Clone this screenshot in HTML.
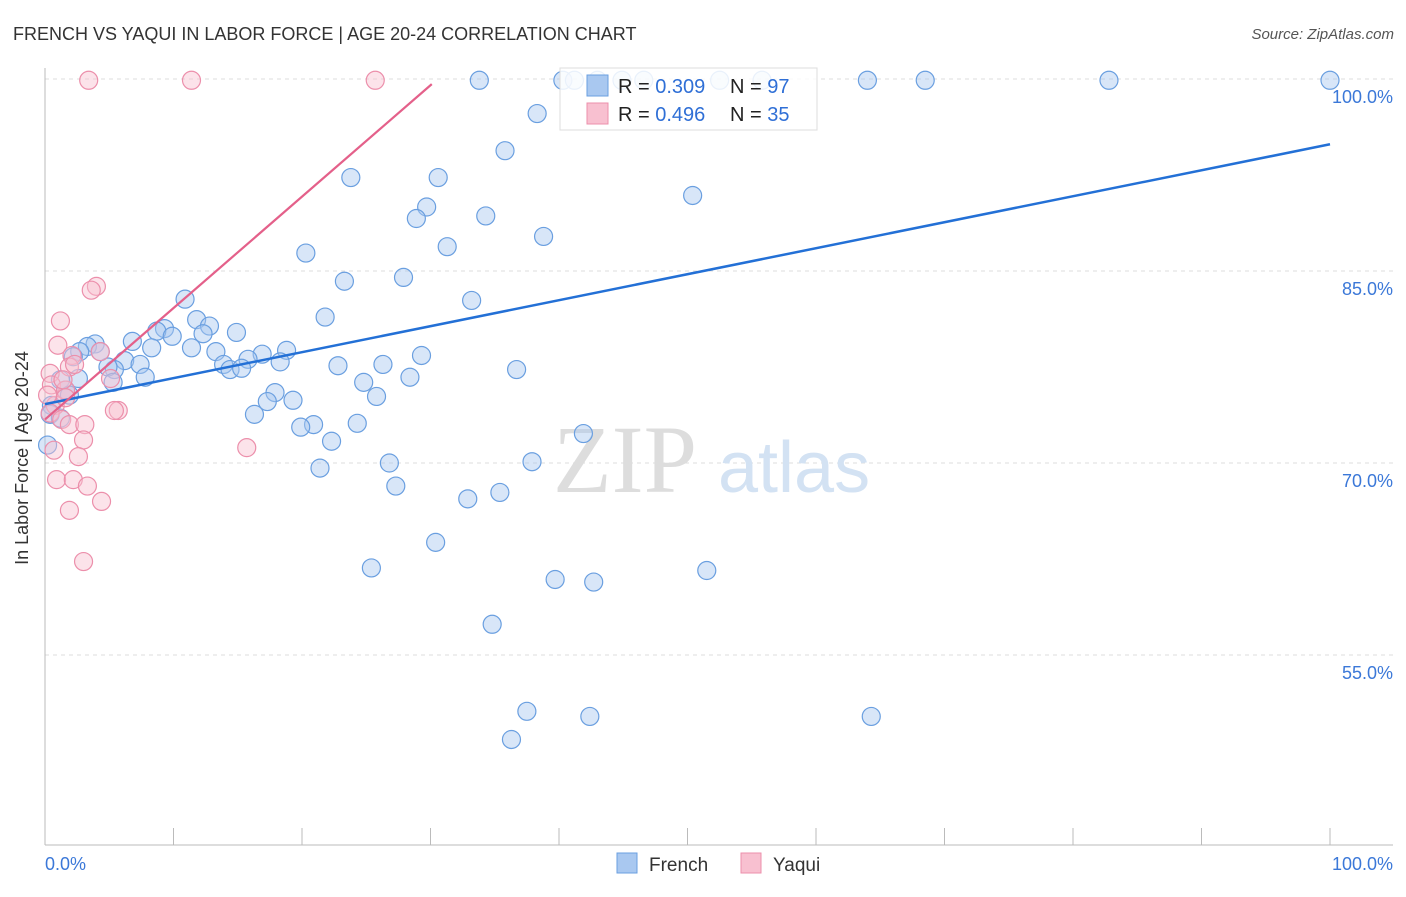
<!DOCTYPE html>
<html><head><meta charset="utf-8"><style>
body{margin:0;background:#fff;font-family:"Liberation Sans",sans-serif;}
svg text{font-family:"Liberation Sans",sans-serif;}
</style></head><body>
<svg width="1406" height="892" viewBox="0 0 1406 892">
<text x="13" y="40" font-size="18" fill="#333">FRENCH VS YAQUI IN LABOR FORCE | AGE 20-24 CORRELATION CHART</text>
<text x="1394" y="39" font-size="15" fill="#555" font-style="italic" text-anchor="end">Source: ZipAtlas.com</text>
<g id="grid"></g>
<g>
<text x="553" y="492" font-size="96" fill="#ddd" font-family="Liberation Serif" style="font-family:'Liberation Serif',serif">ZIP</text>
<text x="718" y="492" font-size="72" fill="#d3e2f3">atlas</text>
</g>
<g id="axes"></g>
<g id="pts"></g>
<g id="lines"></g>
<text x="28" y="458" font-size="18" fill="#333" transform="rotate(-90 28 458)" text-anchor="middle">In Labor Force | Age 20-24</text>
<g>
<rect x="560" y="68" width="257" height="62" fill="#fff" fill-opacity="0.85" stroke="#ddd"/>
<rect x="587" y="75" width="21" height="21" fill="#a9c8f0" stroke="#6a9fe0"/>
<rect x="587" y="103" width="21" height="21" fill="#f8c0d0" stroke="#ec8fab"/>
<text x="618" y="93" font-size="20" fill="#222">R = <tspan fill="#2f6fd6">0.309</tspan></text>
<text x="730" y="93" font-size="20" fill="#222">N = <tspan fill="#2f6fd6">97</tspan></text>
<text x="618" y="121" font-size="20" fill="#222">R = <tspan fill="#2f6fd6">0.496</tspan></text>
<text x="730" y="121" font-size="20" fill="#222">N = <tspan fill="#2f6fd6">35</tspan></text>
</g>
<g>
<rect x="617" y="853" width="20" height="20" fill="#a9c8f0" stroke="#6a9fe0"/>
<text x="649" y="871" font-size="19" fill="#333">French</text>
<rect x="741" y="853" width="20" height="20" fill="#f8c0d0" stroke="#ec8fab"/>
<text x="773" y="871" font-size="19" fill="#333">Yaqui</text>
</g>
</svg>
<script>
const yTicks=[100,85,70,55];
const xTickLabels=["0.0%","100.0%"];
const frenchX=[33.8,40.3,41.2,43.0,44.9,46.6,52.5,55.8,64.0,68.5,82.8,100,38.3,35.8,23.8,30.6,50.4,29.7,28.9,34.3,38.8,31.3,20.3,23.3,27.9,33.2,10.9,21.8,11.8,9.3,12.8,8.7,14.9,9.9,12.3,6.8,11.4,8.3,3.9,3.3,2.7,2.2,13.3,18.8,16.9,15.8,29.3,22.8,26.3,6.2,7.4,13.9,14.4,15.3,18.3,36.7,5.4,4.9,7.8,28.4,24.8,5.3,2.6,1.2,17.9,25.8,19.3,17.3,0.5,16.3,20.9,19.9,24.3,0.4,22.3,41.9,1.2,0.2,21.4,26.8,37.9,27.3,35.4,32.9,30.4,25.4,39.7,42.7,51.5,34.8,37.5,42.4,64.3,36.3,1.6,1.9,4.3];
const frenchY=[99.9,99.9,99.9,99.9,99.9,99.9,99.9,99.9,99.9,99.9,99.9,99.9,97.3,94.4,92.3,92.3,90.9,90.0,89.1,89.3,87.7,86.9,86.4,84.2,84.5,82.7,82.8,81.4,81.2,80.5,80.7,80.3,80.2,79.9,80.1,79.5,79.0,79.0,79.3,79.1,78.7,78.3,78.7,78.8,78.5,78.1,78.4,77.6,77.7,78.0,77.7,77.7,77.3,77.4,77.9,77.3,77.3,77.5,76.7,76.7,76.3,76.3,76.6,76.5,75.5,75.2,74.9,74.8,74.5,73.8,73.0,72.8,73.1,73.8,71.7,72.3,73.5,71.4,69.6,70.0,70.1,68.2,67.7,67.2,63.8,61.8,60.9,60.7,61.6,57.4,50.6,50.2,50.2,48.4,75.7,75.3,78.7];
const yaquiX=[3.4,11.4,25.7,4.0,3.6,1.2,1.0,2.1,1.9,4.3,0.4,0.5,1.6,0.8,5.7,5.4,0.4,1.3,1.9,3.1,3.0,0.7,2.6,15.7,0.9,2.2,3.3,4.4,1.9,3.0,5.1,1.4,2.3,0.2,1.6];
const yaquiY=[99.9,99.9,99.9,83.8,83.5,81.1,79.2,78.4,77.5,78.7,77.0,76.1,75.7,74.5,74.1,74.1,73.9,73.4,73.0,73.0,71.8,71.0,70.5,71.2,68.7,68.7,68.2,67.0,66.3,62.3,76.6,76.5,77.7,75.3,75.1];
const frenchTrend=[[0,74.6],[100,94.9]];
const yaquiTrend=[[0,73.4],[30.1,99.6]];
const NS="http://www.w3.org/2000/svg";
const X=v=>45+v*12.85, Y=v=>79+(100-v)*12.8;
function mk(t,a,p){const e=document.createElementNS(NS,t);for(const k in a)e.setAttribute(k,a[k]);p.appendChild(e);return e;}
const grid=document.getElementById('grid'),axes=document.getElementById('axes');
yTicks.forEach(t=>{const l=mk('line',{x1:45,x2:1393,y1:Y(t),y2:Y(t),stroke:'#ddd','stroke-dasharray':'4,4'},grid);


const tx=mk('text',{x:1393,y:Y(t)+24,'font-size':18,fill:'#3b78d8','text-anchor':'end'},axes);tx.textContent=t.toFixed(1)+'%';

});
mk('line',{x1:45,x2:45,y1:68,y2:845,stroke:'#bbb'},axes);
mk('line',{x1:45,x2:1393,y1:845,y2:845,stroke:'#bbb'},axes);
for(let i=1;i<=10;i++){mk('line',{x1:X(i*10),x2:X(i*10),y1:828,y2:845,stroke:'#bbb'},axes);}
const xl0=mk('text',{x:45,y:870,'font-size':18,fill:'#3b78d8'},axes);xl0.textContent=xTickLabels[0];


const xl1=mk('text',{x:1393,y:870,'font-size':18,fill:'#3b78d8','text-anchor':'end'},axes);xl1.textContent=xTickLabels[1];


const pts=document.getElementById('pts');
frenchX.forEach((x,i)=>{const c=mk('circle',{cx:X(x),cy:Y(frenchY[i]),r:9,fill:'#a9c8f0','fill-opacity':0.45,stroke:'#6a9fe0','stroke-width':1.2},pts);

});
yaquiX.forEach((x,i)=>{const c=mk('circle',{cx:X(x),cy:Y(yaquiY[i]),r:9,fill:'#f8c0d0','fill-opacity':0.45,stroke:'#ec8fab','stroke-width':1.2},pts);

});
const lines=document.getElementById('lines');
const bl=mk('line',{x1:X(frenchTrend[0][0]),y1:Y(frenchTrend[0][1]),x2:X(frenchTrend[1][0]),y2:Y(frenchTrend[1][1]),stroke:'#2370d6','stroke-width':2.5},lines);


const pl=mk('line',{x1:X(yaquiTrend[0][0]),y1:Y(yaquiTrend[0][1]),x2:X(yaquiTrend[1][0]),y2:Y(yaquiTrend[1][1]),stroke:'#e4608a','stroke-width':2.2},lines);


</script>
</body></html>
